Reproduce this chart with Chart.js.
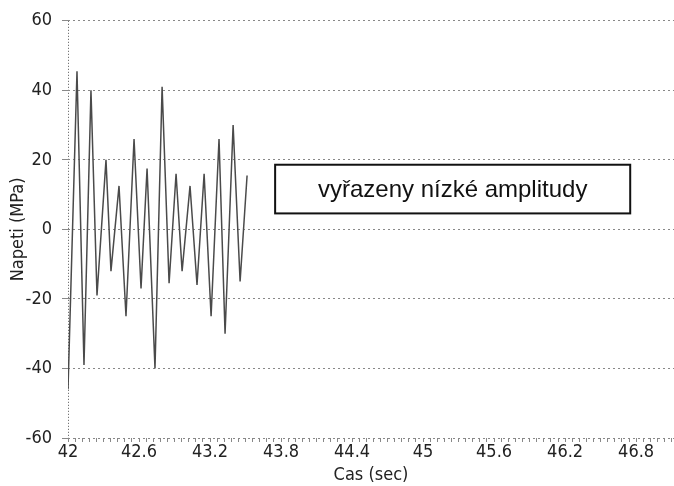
<!DOCTYPE html>
<html>
<head>
<meta charset="utf-8">
<script src="https://cdn.jsdelivr.net/npm/chart.js@4.4.0/dist/chart.umd.min.js"></script>
<style>
  body { margin: 0; background: #fff; }
  #wrap { width: 674px; height: 486px; }
</style>
</head>
<body>
<div id="wrap"><canvas id="napeti" width="674" height="486"></canvas></div>
<script>
// time of each turning point (s) and stress (MPa)
const timeSec = [42.000, 42.076, 42.135, 42.194, 42.245, 42.321, 42.363, 42.431, 42.490, 42.558,
                 42.617, 42.668, 42.735, 42.795, 42.854, 42.913, 42.964, 43.031, 43.090, 43.150,
                 43.209, 43.276, 43.327, 43.395, 43.454, 43.513];
const stressMPa = [-46, 45.5, -39, 40, -19, 20, -12, 12.5, -25, 26,
                   -17, 17.5, -40, 41, -15.5, 16, -12, 12.5, -16, 16,
                   -25, 26, -30, 30, -15, 15.5];
const xTickLabels = [42, 42.6, 43.2, 43.8, 44.4, 45, 45.6, 46.2, 46.8];
const yTickLabels = [-60, -40, -20, 0, 20, 40, 60];
const noteText = 'vyřazeny nízké amplitudy';

(function(){
    var narrow = "'Liberation Sans Narrow', 'DejaVu Sans Condensed', 'Liberation Sans', sans-serif";
    var points = timeSec.map((t, i) => ({x: t, y: stressMPa[i]}));

    // note box with the text, placed in data units
    var notePlugin = {
        id: 'note',
        afterDraw(chart){
            var ctx = chart.ctx, xs = chart.scales.x, ys = chart.scales.y;
            var x1 = xs.getPixelForValue(43.75), x2 = xs.getPixelForValue(46.75);
            var y1 = ys.getPixelForValue(18.6), y2 = ys.getPixelForValue(4.6);
            ctx.save();
            ctx.fillStyle = '#fff';
            ctx.fillRect(x1, y1, x2 - x1, y2 - y1);
            ctx.lineWidth = 2;
            ctx.strokeStyle = '#111';
            ctx.strokeRect(x1, y1, x2 - x1, y2 - y1);
            ctx.fillStyle = '#111';
            ctx.font = "24px 'Liberation Sans', Arial, sans-serif";
            ctx.textAlign = 'center';
            ctx.textBaseline = 'middle';
            ctx.fillText(noteText, (x1 + x2) / 2, (y1 + y2) / 2 + 1);
            ctx.restore();
        }
    };

    new Chart(document.getElementById('napeti'), {
        type: 'line',
        data: {
            datasets: [{
                data: points,
                borderColor: '#4a4a4a',
                borderWidth: 1.5,
                pointRadius: 0,
                tension: 0,
                fill: false
            }]
        },
        options: {
            responsive: false,
            animation: false,
            layout: { padding: { top: 20, right: 0, left: 8, bottom: 0 } },
            plugins: { legend: { display: false }, tooltip: { enabled: false } },
            scales: {
                x: {
                    type: 'linear',
                    min: 42,
                    max: 47.12,
                    afterBuildTicks: scale => {
                        var t = [];
                        for (var i = 0; i <= 85; i++) t.push({value: Math.round((42 + i * 0.06) * 100) / 100});
                        scale.ticks = t;
                    },
                    afterFit: scale => { scale.height = 48; },
                    border: { display: false, dash: [1, 2] },
                    grid: {
                        color: c => (c.tick && Math.abs(c.tick.value - 42) < 1e-6) ? '#555' : 'rgba(0,0,0,0)',
                        tickColor: '#888',
                        tickLength: 4,
                        lineWidth: 1
                    },
                    ticks: {
                        autoSkip: false,
                        maxRotation: 0,
                        padding: 0,
                        color: '#222',
                        font: { family: narrow, size: 18 },
                        callback: v => xTickLabels.find(l => Math.abs(l - v) < 1e-6) !== undefined ? String(v) : ''
                    },
                    title: {
                        display: true,
                        text: 'Cas (sec)',
                        color: '#222',
                        font: { family: narrow, size: 18 },
                        padding: { top: 0, bottom: 0 }
                    }
                },
                y: {
                    min: -60,
                    max: 60,
                    afterBuildTicks: scale => { scale.ticks = yTickLabels.map(v => ({value: v})); },
                    afterFit: scale => { scale.width = 60; },
                    border: { display: false, dash: [2, 3] },
                    grid: { color: '#888', tickColor: '#888', tickLength: 6, lineWidth: 1 },
                    ticks: {
                        padding: 10,
                        color: '#222',
                        font: { family: narrow, size: 18 }
                    },
                    title: {
                        display: true,
                        text: 'Napeti (MPa)',
                        color: '#222',
                        font: { family: narrow, size: 18 },
                        padding: { top: 0, bottom: 0 }
                    }
                }
            }
        },
        plugins: [notePlugin]
    });
})()
</script>
</body>
</html>
